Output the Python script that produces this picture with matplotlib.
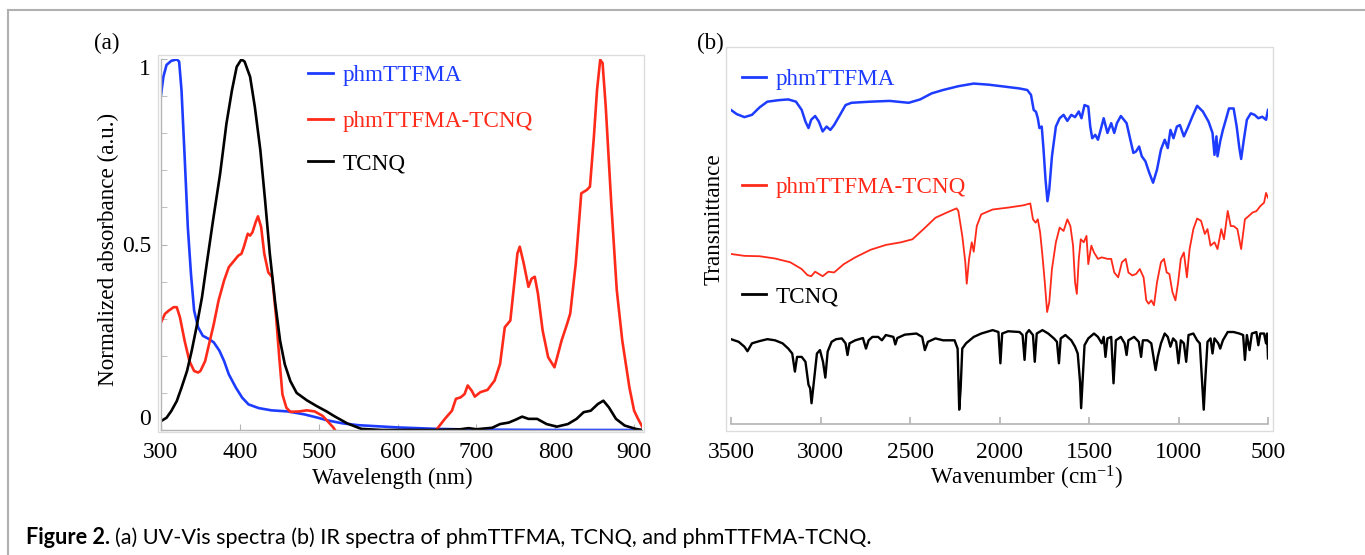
import matplotlib
matplotlib.use("Agg")
import matplotlib.pyplot as plt
from matplotlib.lines import Line2D
from matplotlib.patches import Rectangle
import numpy as np

W, H = 1365, 555

# ---- (a) UV-Vis, normalized absorbance ----
uv_blue_nm = [300, 303, 307, 313, 320, 323, 326, 330, 334, 338, 342, 347, 353, 361, 367,
              374, 380, 386, 395, 403, 411, 424, 440, 461, 482, 499, 511, 530, 550, 600,
              650, 700, 800, 910]
uv_blue = [0.903, 0.952, 0.984, 0.995, 0.999, 0.993, 0.916, 0.736, 0.547, 0.421, 0.322,
           0.277, 0.254, 0.245, 0.236, 0.214, 0.186, 0.150, 0.114, 0.087, 0.069, 0.059,
           0.053, 0.050, 0.042, 0.033, 0.026, 0.018, 0.013, 0.007, 0.003, 0.001, 0.0, 0.0]

uv_red_nm = [300, 305, 310, 316, 320, 324, 330, 336, 342, 347, 350, 356, 361, 367, 373,
             380, 386, 393, 398, 402, 405, 410, 413, 416, 420, 423, 427, 431, 436, 441,
             446, 450, 454, 459, 464, 475, 485, 495, 505, 512, 518, 524,
             645, 649, 660, 669, 674, 680, 685, 689, 694, 698, 705, 714, 723, 730, 736,
             743, 748, 752, 755, 760, 766, 770, 774, 778, 784, 791, 799, 808, 815, 819,
             826, 833, 840, 844, 849, 853, 857, 860, 864, 871, 878, 885, 894, 900, 905, 910]
uv_red = [0.29, 0.313, 0.322, 0.331, 0.331, 0.304, 0.24, 0.186, 0.159, 0.155, 0.159,
          0.186, 0.232, 0.286, 0.349, 0.403, 0.439, 0.457, 0.470, 0.475, 0.493, 0.529,
          0.524, 0.533, 0.560, 0.576, 0.547, 0.475, 0.425, 0.412, 0.304, 0.195, 0.096,
          0.060, 0.049, 0.050, 0.053, 0.050, 0.038, 0.022, 0.008, -0.01,
          -0.02, 0.0, 0.030, 0.052, 0.084, 0.088, 0.097, 0.120, 0.106, 0.090, 0.102,
          0.108, 0.133, 0.178, 0.277, 0.295, 0.395, 0.476, 0.494, 0.449, 0.386, 0.408,
          0.413, 0.368, 0.268, 0.196, 0.169, 0.241, 0.286, 0.314, 0.449, 0.638, 0.647,
          0.656, 0.791, 0.917, 0.998, 0.989, 0.872, 0.611, 0.377, 0.241, 0.115, 0.052,
          0.03, 0.01]

uv_black_nm = [300, 307, 313, 320, 326, 333, 339, 345, 352, 358, 366, 375, 383, 390, 396,
               402, 406, 413, 419, 426, 432, 438, 445, 451, 457, 464, 472, 485, 497, 510,
               520, 536, 554, 580, 650, 680, 690, 700, 720, 730, 741, 750, 758, 766, 777,
               789, 802, 816, 827, 836, 845, 854, 861, 868, 877, 888, 902, 910]
uv_black = [0.024, 0.033, 0.051, 0.078, 0.114, 0.159, 0.214, 0.277, 0.358, 0.448, 0.565,
            0.691, 0.826, 0.916, 0.979, 0.999, 0.993, 0.952, 0.871, 0.754, 0.619, 0.475,
            0.340, 0.241, 0.177, 0.132, 0.100, 0.080, 0.065, 0.050, 0.037, 0.018, 0.003,
            0.0, 0.0, 0.002, 0.005, 0.002, 0.006, 0.016, 0.020, 0.028, 0.036, 0.030,
            0.030, 0.016, 0.009, 0.016, 0.030, 0.048, 0.052, 0.070, 0.079, 0.061, 0.030,
            0.012, 0.003, 0.0]

# ---- (b) IR, transmittance (offset traces, arbitrary units) ----
ir_blue_wn = [3500, 3468, 3425, 3383, 3340, 3297, 3233, 3180, 3137, 3105, 3084, 3067, 3052,
              3030, 3009, 2988, 2966, 2945, 2924, 2891, 2860, 2827, 2721, 2614, 2507, 2443,
              2379, 2315, 2230, 2144, 2059, 1973, 1888, 1845, 1824, 1809, 1796, 1786, 1777,
              1764, 1754, 1743, 1732, 1722, 1707, 1685, 1664, 1642, 1621, 1599, 1578, 1557,
              1542, 1525, 1504, 1493, 1482, 1465, 1450, 1435, 1418, 1397, 1376, 1359, 1344,
              1322, 1290, 1269, 1252, 1237, 1220, 1205, 1185, 1163, 1142, 1120, 1098, 1077,
              1060, 1045, 1028, 1009, 992, 970, 949, 923, 896, 864, 832, 810, 799, 788, 782,
              767, 752, 735, 718, 692, 675, 660, 650, 635, 618, 596, 575, 554, 532, 511, 500]
ir_blue = [83.3, 82.2, 81.4, 82.0, 84.0, 85.5, 85.9, 86.1, 85.5, 83.3, 80.2, 78.5, 80.7,
           81.7, 80.2, 77.6, 78.9, 78.0, 79.3, 82.0, 84.6, 85.2, 85.5, 85.7, 85.2, 86.1,
           87.7, 88.6, 89.6, 90.3, 90.0, 89.5, 89.0, 88.6, 87.3, 83.3, 82.8, 81.1, 78.5,
           78.9, 72.8, 64.9, 59.1, 62.2, 71.0, 78.9, 81.1, 82.0, 80.4, 82.0, 81.4, 82.9,
           81.1, 84.6, 84.2, 78.9, 75.8, 76.7, 75.4, 78.0, 81.1, 77.2, 79.8, 77.2, 79.8,
           81.7, 79.8, 75.4, 71.9, 72.3, 73.6, 71.0, 69.7, 66.6, 64.0, 67.5, 72.8, 75.4,
           73.2, 78.0, 75.8, 78.9, 79.3, 76.3, 78.5, 81.5, 84.4, 82.9, 80.2, 77.2, 71.4,
           76.3, 71.0, 75.0, 78.0, 80.8, 83.7, 83.7, 78.9, 73.2, 70.3, 75.4, 80.7, 82.4,
           82.0, 81.1, 81.5, 80.7, 83.3]

ir_red_wn = [3500, 3425, 3340, 3254, 3169, 3105, 3073, 3052, 3030, 3009, 2988, 2956, 2924,
             2870, 2806, 2721, 2635, 2550, 2486, 2422, 2358, 2294, 2240, 2230, 2208, 2191,
             2183, 2170, 2155, 2144, 2127, 2102, 2038, 1952, 1867, 1828, 1813, 1798, 1786,
             1773, 1760, 1747, 1734, 1722, 1707, 1685, 1664, 1642, 1621, 1604, 1589, 1578,
             1568, 1557, 1546, 1529, 1514, 1504, 1487, 1472, 1450, 1429, 1397, 1376, 1359,
             1337, 1316, 1295, 1280, 1258, 1237, 1216, 1195, 1180, 1167, 1152, 1137, 1120,
             1098, 1081, 1066, 1051, 1034, 1017, 1002, 987, 970, 953, 938, 917, 896, 874,
             853, 838, 821, 799, 782, 761, 746, 725, 708, 692, 671, 650, 629, 607, 586, 564,
             543, 522, 511, 500]
ir_red = [45.1, 44.6, 44.5, 43.9, 42.9, 41.1, 39.5, 39.2, 40.4, 39.8, 39.2, 40.4, 40.2,
          42.4, 44.2, 46.2, 47.5, 48.2, 49.0, 51.8, 54.7, 56.1, 57.2, 56.5, 49.9, 42.9,
          37.2, 43.8, 48.2, 45.7, 52.5, 55.6, 56.9, 57.4, 58.0, 58.5, 54.3, 53.4, 54.3,
          50.8, 44.6, 37.6, 29.7, 32.3, 41.1, 48.2, 52.1, 51.2, 54.3, 52.5, 47.3, 37.6,
          34.5, 43.8, 49.0, 48.2, 49.9, 42.4, 47.3, 45.5, 43.8, 44.2, 43.8, 43.8, 40.2,
          38.9, 42.9, 43.8, 40.2, 39.4, 39.8, 41.1, 38.9, 32.8, 31.9, 32.8, 31.5, 37.6,
          42.9, 43.8, 40.2, 39.8, 35.0, 32.8, 37.6, 43.8, 45.5, 38.9, 46.4, 51.7, 54.5,
          53.9, 50.4, 51.7, 47.3, 48.2, 46.4, 51.7, 49.0, 56.5, 52.5, 52.5, 51.7, 46.4,
          54.3, 55.2, 56.1, 56.5, 57.8, 58.7, 61.3, 60.0]

ir_black_wn = [3500, 3457, 3425, 3408, 3383, 3340, 3297, 3254, 3212, 3180, 3158, 3143, 3131,
               3105, 3084, 3067, 3058, 3050, 3037, 3020, 3003, 2986, 2973, 2960, 2938, 2913,
               2881, 2860, 2849, 2838, 2806, 2763, 2746, 2731, 2710, 2678, 2657, 2635, 2593,
               2582, 2571, 2529, 2464, 2432, 2417, 2400, 2358, 2315, 2251, 2234, 2225, 2217,
               2208, 2187, 2144, 2102, 2038, 2006, 1995, 1985, 1952, 1888, 1871, 1860, 1850,
               1835, 1813, 1803, 1792, 1760, 1728, 1696, 1679, 1668, 1658, 1632, 1599, 1578,
               1563, 1550, 1544, 1536, 1525, 1504, 1472, 1450, 1429, 1418, 1408, 1397, 1376,
               1363, 1350, 1322, 1301, 1290, 1280, 1248, 1222, 1209, 1199, 1173, 1152, 1137,
               1128, 1116, 1098, 1077, 1060, 1045, 1030, 1013, 1000, 987, 970, 957, 944, 917,
               896, 881, 868, 859, 851, 838, 821, 810, 799, 778, 767, 752, 725, 692, 660, 639,
               629, 618, 603, 590, 565, 554, 543, 522, 511, 505, 500]
ir_black = [22.5, 21.8, 20.5, 19.3, 21.4, 22.0, 22.5, 22.2, 21.4, 20.0, 18.7, 13.9, 17.8,
            17.8, 16.5, 10.4, 9.5, 5.5, 11.2, 18.7, 19.6, 16.5, 12.3, 19.2, 21.8, 22.5,
            22.7, 21.4, 18.3, 21.4, 22.2, 22.8, 20.0, 22.2, 23.1, 23.1, 22.2, 23.6, 23.1,
            21.1, 22.8, 23.7, 24.0, 23.1, 19.6, 21.8, 22.7, 22.2, 22.2, 20.0, 3.8, 9.5,
            20.0, 21.4, 23.1, 24.0, 24.9, 24.4, 16.1, 24.0, 24.6, 24.4, 23.6, 17.0, 24.0,
            24.9, 23.6, 16.5, 24.0, 24.9, 24.0, 22.7, 21.8, 16.1, 22.7, 23.6, 22.2, 20.5,
            18.7, 11.2, 4.2, 11.2, 20.9, 22.7, 24.0, 23.1, 21.4, 23.1, 17.8, 22.7, 23.1,
            10.8, 22.2, 23.1, 21.4, 18.3, 22.2, 23.1, 21.8, 17.8, 22.2, 22.2, 21.4, 17.0,
            14.3, 17.8, 21.4, 24.0, 23.1, 20.5, 22.7, 21.8, 16.1, 22.2, 21.4, 16.5, 23.6,
            24.0, 22.2, 21.4, 11.2, 3.8, 11.2, 21.8, 22.7, 18.7, 22.7, 21.4, 20.0, 22.2,
            24.4, 24.4, 24.0, 23.6, 17.0, 23.6, 19.6, 24.0, 24.4, 20.9, 24.0, 24.0, 21.4,
            24.0, 17.4]

names = ["phmTTFMA", "phmTTFMA-TCNQ", "TCNQ"]
colors = ["#1e3cff", "#ff2a1a", "#000000"]

plt.rcParams["font.family"] = ["Liberation Serif", "DejaVu Serif"]
plt.rcParams["mathtext.fontset"] = "custom"
plt.rcParams["mathtext.rm"] = "Liberation Serif"
plt.rcParams["mathtext.it"] = "Liberation Serif:italic"
FS = 16.7
TICK_FS = 17
AXIS_GREY = "#b4b4b4"
FRAME_GREY = "#dcdcdc"

fig = plt.figure(figsize=(W / 100, H / 100), dpi=100)


def box(x0, y0, x1, y1):
    return [x0 / W, 1 - y1 / H, (x1 - x0) / W, (y1 - y0) / H]


def fx(x):
    return x / W


def fy(y):
    return 1 - y / H


def frame(x0, y0, x1, y1):
    fig.add_artist(Rectangle((fx(x0), fy(y1)), (x1 - x0) / W, (y1 - y0) / H,
                             transform=fig.transFigure, fill=False,
                             edgecolor=FRAME_GREY, linewidth=1.0))


# outer border of the figure box
fig.add_artist(Line2D([fx(8), 1], [fy(10), fy(10)], transform=fig.transFigure,
                      color="#b0b0b0", linewidth=1.5))
fig.add_artist(Line2D([fx(8), fx(8)], [fy(10), 0], transform=fig.transFigure,
                      color="#b0b0b0", linewidth=1.5))

# ---------------- panel (a) ----------------
frame(158, 55, 644, 432)
ax1 = fig.add_axes(box(161, 59, 642, 430))
ax1.plot(uv_blue_nm, uv_blue, color=colors[0], lw=1.9, solid_joinstyle="round")
ax1.plot(uv_red_nm, uv_red, color=colors[1], lw=1.9, solid_joinstyle="round")
ax1.plot(uv_black_nm, uv_black, color=colors[2], lw=1.9, solid_joinstyle="round")
ax1.set_xlim(300, 910)
ax1.set_ylim(0, 1.0)
ax1.set_xticks(range(300, 901, 100))
ax1.set_yticks([0, 0.5, 1])
ax1.set_yticklabels(["0", "0.5", "1"])
ax1.set_yticks(np.arange(0.1, 1.0, 0.1), minor=True)
for s in ["top", "right"]:
    ax1.spines[s].set_visible(False)
for s in ["left", "bottom"]:
    ax1.spines[s].set_color(AXIS_GREY)
    ax1.spines[s].set_linewidth(1.0)
ax1.tick_params(axis="both", which="both", direction="in", color=AXIS_GREY,
                length=4, labelsize=TICK_FS)
ax1.tick_params(axis="x", pad=9)
ax1.tick_params(axis="y", pad=7)
ylabs = ax1.get_yticklabels()
ylabs[0].set_va("bottom")
ylabs[2].set_va("top")

fig.text(fx(107), fy(43), "(a)", fontsize=FS, ha="center", va="center")
fig.text(fx(108), fy(249), "Normalized absorbance (a.u.)", fontsize=FS,
         rotation=90, ha="center", va="center")
fig.text(fx(392), fy(478), "Wavelength (nm)", fontsize=FS, ha="center", va="center")

leg_a_y = [73, 119, 161]
for name, c, y in zip(names, colors, leg_a_y):
    fig.add_artist(Line2D([fx(308), fx(333)], [fy(y), fy(y)], transform=fig.transFigure,
                          color=c, linewidth=2.0))
    fig.text(fx(343), fy(y + 3), name, color=c, fontsize=FS, ha="left", va="center")

# ---------------- panel (b) ----------------
frame(726, 47, 1273, 431)
ax2 = fig.add_axes(box(731, 47, 1268, 424))
ax2.plot(ir_blue_wn, ir_blue, color=colors[0], lw=1.8, solid_joinstyle="round")
ax2.plot(ir_red_wn, ir_red, color=colors[1], lw=1.3, solid_joinstyle="round")
ax2.plot(ir_black_wn, ir_black, color=colors[2], lw=1.7, solid_joinstyle="round")
ax2.set_xlim(3500, 500)
ax2.set_ylim(0, 100)
ax2.set_xticks(range(3500, 499, -500))
ax2.set_yticks([])
for s in ["top", "right", "left"]:
    ax2.spines[s].set_visible(False)
ax2.spines["bottom"].set_color(AXIS_GREY)
ax2.spines["bottom"].set_linewidth(1.2)
ax2.tick_params(axis="x", direction="in", color=AXIS_GREY, length=5, width=1.2,
                labelsize=TICK_FS, pad=13)

fig.text(fx(710), fy(43), "(b)", fontsize=FS, ha="center", va="center")
fig.text(fx(714), fy(219), "Transmittance", fontsize=FS, rotation=90,
         ha="center", va="center")
fig.text(fx(1026), fy(478), "Wavenumber (cm$^{-1}$)", fontsize=FS,
         ha="center", va="center")

leg_b_y = [77, 185, 294]
for name, c, y in zip(names, colors, leg_b_y):
    fig.add_artist(Line2D([fx(742), fx(766)], [fy(y), fy(y)], transform=fig.transFigure,
                          color=c, linewidth=2.0))
    fig.text(fx(776), fy(y + 3), name, color=c, fontsize=FS, ha="left", va="center")

# ---------------- caption ----------------
cap_font = ["Lato", "DejaVu Sans"]
t_bold = fig.text(fx(26), fy(538), "Figure 2.", family=cap_font, fontweight="bold",
                  fontsize=15.6, ha="left", va="center")
renderer = fig.canvas.get_renderer()
bb = t_bold.get_window_extent(renderer=renderer)
fig.text(bb.x1 / W + 5 / W, fy(538),
         "(a) UV-Vis spectra (b) IR spectra of phmTTFMA, TCNQ, and phmTTFMA-TCNQ.",
         family=cap_font, fontsize=15.6, ha="left", va="center")

fig.savefig("out.png", dpi=100)
